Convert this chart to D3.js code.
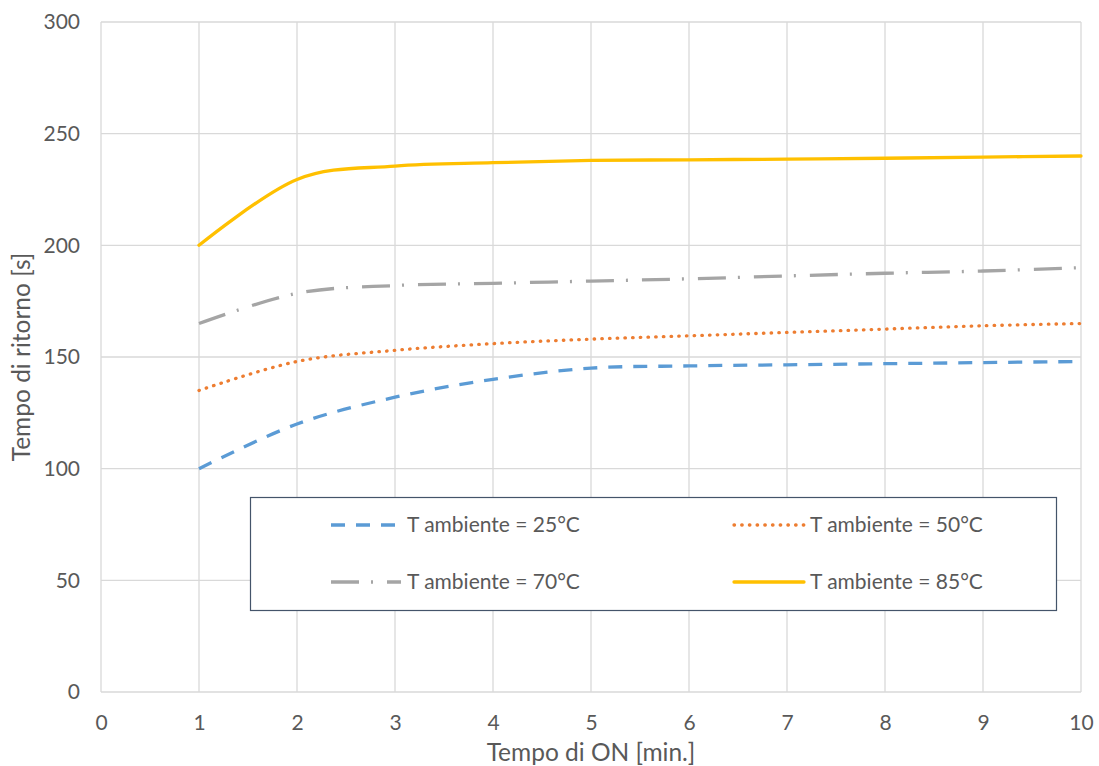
<!DOCTYPE html>
<html><head><meta charset="utf-8">
<script src="https://cdn.jsdelivr.net/npm/d3@7"></script>
<style>body{margin:0;background:#fff}svg{display:block}text{font-family:Lato,"Open Sans",sans-serif;fill:#595959}</style>
</head><body>
<script>
const xValues = [1,2,3,4,5,6,7,8,9,10];
const s25 = [100,120,132,140,145,146,146.5,147,147.5,148];
const s50 = [135,148,153,156,158,159.5,161,162.5,164,165];
const s70 = [165,178.5,182,183,184,185,186.3,187.5,188.5,190];
const s85 = [200,229.5,235.5,237,238,238.3,238.6,239,239.5,240];
const seriesNames = ["T ambiente = 25°C","T ambiente = 50°C","T ambiente = 70°C","T ambiente = 85°C"];
const xTicks = [0,1,2,3,4,5,6,7,8,9,10];
const yTicks = [0,50,100,150,200,250,300];

const W=1099,H=766;
const m={l:101,r:18,t:22,b:74};
const svg=d3.select("body").append("svg").attr("width",W).attr("height",H);
const x=d3.scaleLinear().domain([0,10]).range([m.l,W-m.r]);
const y=d3.scaleLinear().domain([0,300]).range([H-m.b,m.t]);

// grid
svg.append("g").selectAll("line").data(yTicks).join("line")
  .attr("x1",x(0)).attr("x2",x(10)).attr("y1",d=>y(d)).attr("y2",d=>y(d))
  .attr("stroke","#d9d9d9").attr("stroke-width",1.3);
svg.append("g").selectAll("line").data(xTicks).join("line")
  .attr("y1",y(0)).attr("y2",y(300)).attr("x1",d=>x(d)).attr("x2",d=>x(d))
  .attr("stroke","#d9d9d9").attr("stroke-width",1.3);

// axes labels
const yAxis=d3.axisLeft(y).tickValues(yTicks).tickSize(0).tickPadding(21);
const gy=svg.append("g").attr("transform",`translate(${x(0)},0)`).call(yAxis);
gy.select(".domain").remove();
gy.selectAll("text").style("font-size","21px").attr("fill","#595959");
const xAxis=d3.axisBottom(x).tickValues(xTicks).tickSize(0).tickPadding(23);
const gx=svg.append("g").attr("transform",`translate(0,${y(0)})`).call(xAxis);
gx.select(".domain").remove();
gx.selectAll("text").style("font-size","21px").attr("fill","#595959");

svg.append("text").attr("transform",`translate(30,${(y(0)+y(300))/2}) rotate(-90)`)
  .attr("text-anchor","middle").style("font-size","24.5px").text("Tempo di ritorno [s]");
svg.append("text").attr("x",(x(0)+x(10))/2).attr("y",761)
  .attr("text-anchor","middle").style("font-size","24.5px").text("Tempo di ON [min.]");

const styles=[
  {data:s25,color:"#5B9BD5",dash:"14,11",cap:"butt"},
  {data:s50,color:"#ED7D31",dash:"0.5,7.2",cap:"round"},
  {data:s70,color:"#A5A5A5",dash:"28,12,2,14",cap:"butt"},
  {data:s85,color:"#FFC000",dash:null,cap:"round"}
];
const line=d3.line().x((d,i)=>x(xValues[i])).y(d=>y(d)).curve(d3.curveCatmullRom.alpha(0));
styles.forEach(s=>{
  svg.append("path").attr("d",line(s.data)).attr("fill","none")
    .attr("stroke",s.color).attr("stroke-width",3.3)
    .attr("stroke-dasharray",s.dash).attr("stroke-linecap",s.cap)
    .attr("stroke-linejoin","round");
});

// legend
const lg=svg.append("g");
lg.append("rect").attr("x",250.5).attr("y",497.5).attr("width",806).attr("height",113)
  .attr("fill","#fff").attr("stroke","#44546A").attr("stroke-width",1.2);
const pos=[[331,525],[734,525],[331,582],[734,582]];
const order=[0,1,2,3];
order.forEach((k,i)=>{
  const [px,py]=pos[i];const s=styles[k];
  lg.append("line").attr("x1",px).attr("x2",px+70).attr("y1",py).attr("y2",py)
    .attr("stroke",s.color).attr("stroke-width",3.3)
    .attr("stroke-dasharray",s.dash).attr("stroke-linecap",s.cap);
  lg.append("text").attr("x",px+76).attr("y",py).attr("dy","0.35em")
    .style("font-size","21px").text(seriesNames[k]);
});
</script>
</body></html>
